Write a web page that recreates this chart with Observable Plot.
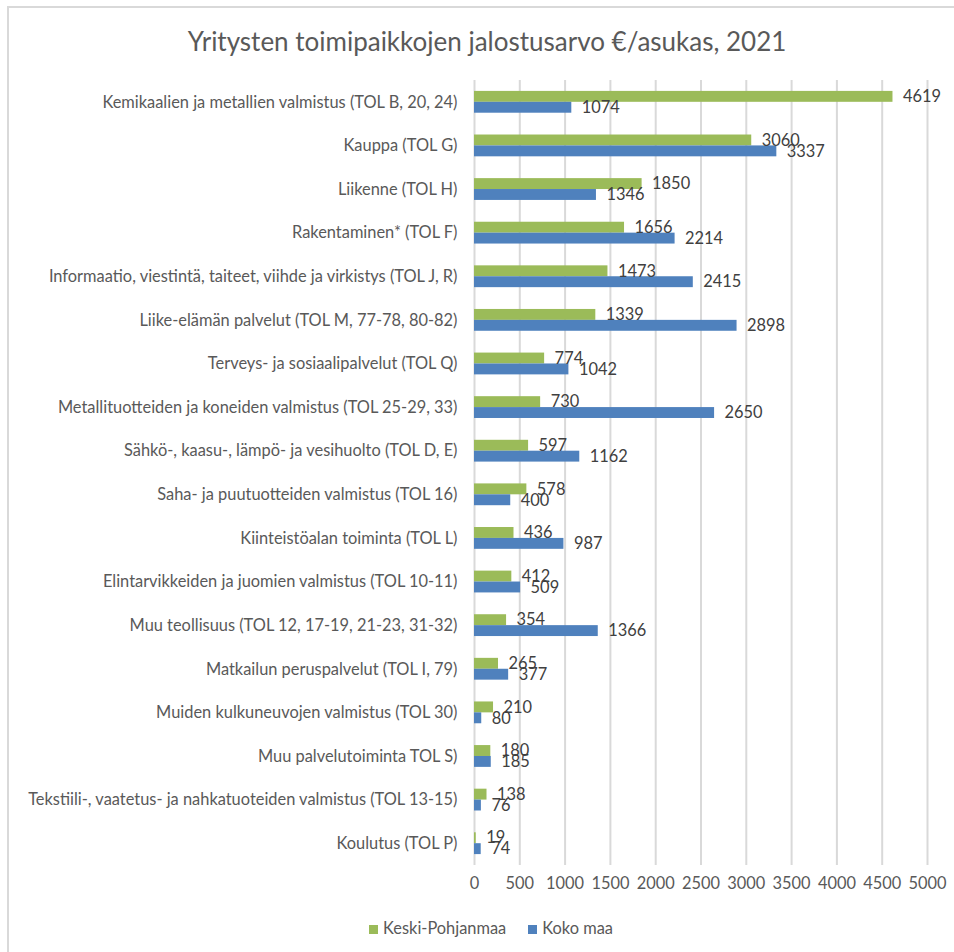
<!DOCTYPE html>
<html>
<head>
<meta charset="utf-8">
<script src="https://cdn.jsdelivr.net/npm/d3@7"></script>
<script src="https://cdn.jsdelivr.net/npm/@observablehq/plot@0.6"></script>
<style>
  html, body { margin: 0; padding: 0; background: #fff; }
  #wrap { position: relative; width: 954px; height: 952px; font-family: Lato, "Open Sans", sans-serif; overflow: hidden; }
  #frame { position: absolute; left: 7px; top: 6px; width: 960px; height: 960px; border-left: 2px solid #d9d9d9; border-top: 2px solid #d9d9d9; }
  #title { position: absolute; left: 0; top: 25px; width: 974px; text-align: center; font-size: 26px; color: #595959; }
  #grid, #chart { position: absolute; left: 0; top: 70px; }
  #legend { position: absolute; left: 0; top: 918px; width: 982px; text-align: center; font-size: 16.4px; color: #595959; }
  #legend span.item { margin: 0 11px; }
  #legend span.sw { display: inline-block; width: 9px; height: 9px; margin-right: 5px; }
</style>
</head>
<body>
<div id="wrap">
  <div id="frame"></div>
  <div id="title">Yritysten toimipaikkojen jalostusarvo €/asukas, 2021</div>
  <div id="grid"></div>
  <div id="chart"></div>
  <div id="legend"></div>
</div>
<script>
const categories = [
  "Kemikaalien ja metallien valmistus (TOL B, 20, 24)",
  "Kauppa (TOL G)",
  "Liikenne (TOL H)",
  "Rakentaminen* (TOL F)",
  "Informaatio, viestintä, taiteet, viihde ja virkistys (TOL J, R)",
  "Liike-elämän palvelut (TOL M, 77-78, 80-82)",
  "Terveys- ja sosiaalipalvelut (TOL Q)",
  "Metallituotteiden ja koneiden valmistus (TOL 25-29, 33)",
  "Sähkö-, kaasu-, lämpö- ja vesihuolto (TOL D, E)",
  "Saha- ja puutuotteiden valmistus (TOL 16)",
  "Kiinteistöalan toiminta (TOL L)",
  "Elintarvikkeiden ja juomien valmistus (TOL 10-11)",
  "Muu teollisuus (TOL 12, 17-19, 21-23, 31-32)",
  "Matkailun peruspalvelut (TOL I, 79)",
  "Muiden kulkuneuvojen valmistus (TOL 30)",
  "Muu palvelutoiminta TOL S)",
  "Tekstiili-, vaatetus- ja nahkatuoteiden valmistus (TOL 13-15)",
  "Koulutus (TOL P)"
];
const seriesNames = ["Keski-Pohjanmaa", "Koko maa"];
const keskiPohjanmaa = [4619, 3060, 1850, 1656, 1473, 1339, 774, 730, 597, 578, 436, 412, 354, 265, 210, 180, 138, 19];
const kokoMaa = [1074, 3337, 1346, 2214, 2415, 2898, 1042, 2650, 1162, 400, 987, 509, 1366, 377, 80, 185, 76, 74];
const xTicks = [0, 500, 1000, 1500, 2000, 2500, 3000, 3500, 4000, 4500, 5000];
const colors = ["#9bbb59", "#4f81bd"];

const rows = categories.flatMap((c, i) => [
  {cat: c, series: seriesNames[0], value: keskiPohjanmaa[i]},
  {cat: c, series: seriesNames[1], value: kokoMaa[i]}
]);

const common = {
  width: 954,
  height: 830,
  marginTop: 10,
  marginBottom: 35,
  marginLeft: 474,
  marginRight: 27,
  style: {fontFamily: "Lato, 'Open Sans', sans-serif", fontSize: "16.4px", color: "#595959", background: "transparent"}
};

// Background: vertical gridlines and the value axis
const grid = Plot.plot({
  ...common,
  x: {domain: [0, 5000], ticks: xTicks, tickSize: 0, tickPadding: 12, label: null, tickFormat: d => String(d)},
  marks: [
    Plot.ruleX(xTicks, {stroke: "#d9d9d9", strokeWidth: 2, strokeOpacity: 1}),
    Plot.axisX({ticks: xTicks, tickSize: 0, tickPadding: 12, label: null, tickFormat: d => String(d), fill: "#595959", fontSize: 16.4})
  ]
});
document.getElementById("grid").appendChild(grid);

// Foreground: grouped bars, faceted by category
const chart = Plot.plot({
  ...common,
  x: {domain: [0, 5000], axis: null},
  y: {domain: seriesNames, padding: 0, axis: null, round: false},
  fy: {domain: categories, paddingInner: 0.5, paddingOuter: 0.25, round: false, label: null, axis: null},
  color: {domain: seriesNames, range: colors},
  marks: [
    Plot.axisFy({anchor: "left", tickSize: 0, tickPadding: 17, label: null, fontSize: 16.4, fill: "#595959"}),
    Plot.barX(rows, {x: "value", y: "series", fy: "cat", fill: "series"}),
    Plot.text(rows, {x: "value", y: "series", fy: "cat", text: d => String(d.value), textAnchor: "start", dx: 10, fill: "#404040", fontSize: 16.4})
  ]
});
document.getElementById("chart").appendChild(chart);

const legend = document.getElementById("legend");
seriesNames.forEach((s, i) => {
  const item = document.createElement("span");
  item.className = "item";
  const sw = document.createElement("span");
  sw.className = "sw";
  sw.style.background = colors[i];
  item.appendChild(sw);
  item.appendChild(document.createTextNode(s));
  legend.appendChild(item);
});
</script>
</body>
</html>
